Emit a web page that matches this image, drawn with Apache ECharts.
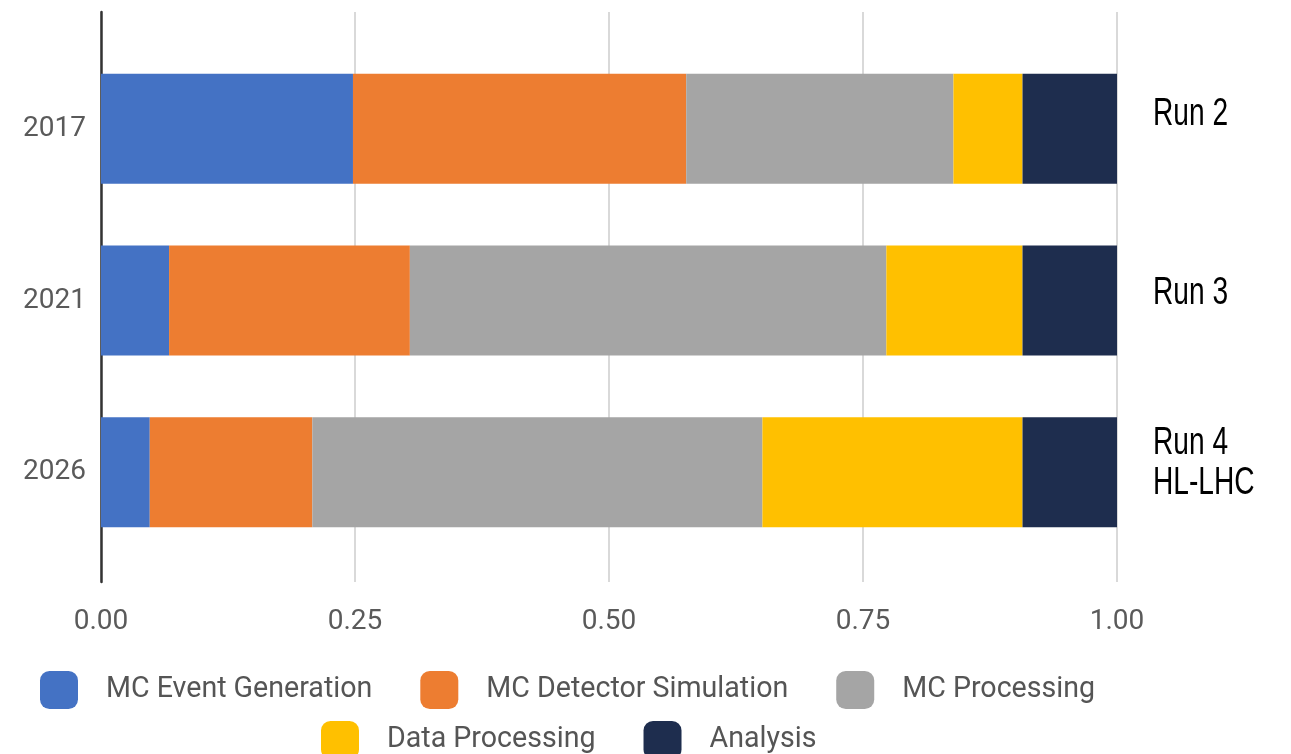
<!DOCTYPE html>
<html>
<head>
<meta charset="utf-8">
<title>CPU share by activity</title>
<script src="https://cdn.jsdelivr.net/npm/echarts@6/dist/echarts.min.js"></script>
<style>
  html, body { margin: 0; padding: 0; background: #fff; }
  #chart { width: 1291px; height: 754px; }
</style>
</head>
<body>
<div id="chart"></div>
<script>
// Years shown on the category axis (top to bottom)
const years = ['2017', '2021', '2026'];
// Run labels printed to the right of each bar
const runLabels = ['Run 2', 'Run 3', 'Run 4\nHL-LHC'];
// Activity names, in stacking order
const activities = ['MC Event Generation', 'MC Detector Simulation', 'MC Processing', 'Data Processing', 'Analysis'];
// Fraction of resources per activity, one entry per year
const mcEventGeneration    = [0.248, 0.067, 0.048];
const mcDetectorSimulation = [0.328, 0.237, 0.160];
const mcProcessing         = [0.263, 0.469, 0.443];
const dataProcessing       = [0.068, 0.134, 0.256];
const analysis             = [0.093, 0.093, 0.093];
// Value axis ticks
const xTicks = [0, 0.25, 0.5, 0.75, 1];

const seriesValues = [mcEventGeneration, mcDetectorSimulation, mcProcessing, dataProcessing, analysis];
const colors = ['#4472c4', '#ed7d31', '#a5a5a5', '#ffc000', '#1e2d4e'];

const chart = echarts.init(document.getElementById('chart'), null, { renderer: 'canvas' });

const labelFont = { fontFamily: 'Roboto', fontSize: 28, color: '#5a5a5a' };
const legendText = { fontFamily: 'Roboto', fontSize: 28.6, color: '#555', padding: [0, 0, 0, 23] };

const option = {
  animation: false,
  backgroundColor: '#fff',
  color: colors,
  grid: [
    // bars
    { left: 101, right: 174, top: 43, bottom: 196 },
    // frame: gridlines, value labels and the left axis line
    { left: 101, right: 174, top: 12, bottom: 172 }
  ],
  xAxis: [
    {
      gridIndex: 0, type: 'value', min: xTicks[0], max: xTicks[xTicks.length - 1], interval: 0.25,
      show: false
    },
    {
      gridIndex: 1, type: 'value', min: xTicks[0], max: xTicks[xTicks.length - 1], interval: 0.25,
      axisLine: { show: false },
      axisTick: { show: false },
      splitLine: { show: true, lineStyle: { color: '#d9d9d9', width: 2 } },
      axisLabel: {
        margin: 26,
        ...labelFont,
        formatter: v => v.toFixed(2)
      }
    }
  ],
  yAxis: [
    {
      gridIndex: 0, type: 'category', data: years, inverse: true,
      axisLine: { show: false },
      axisTick: { show: false },
      axisLabel: { margin: 15, ...labelFont }
    },
    {
      gridIndex: 1, type: 'category', data: years, inverse: true,
      axisLine: { show: true, lineStyle: { color: '#333', width: 2.5 } },
      axisTick: { show: false },
      axisLabel: { show: false },
      splitLine: { show: false }
    }
  ],
  legend: [
    {
      data: activities.slice(0, 3),
      left: 35, top: 666,
      orient: 'horizontal',
      icon: 'roundRect',
      itemWidth: 38, itemHeight: 38, itemGap: 48,
      selectedMode: false,
      textStyle: legendText
    },
    {
      data: activities.slice(3),
      left: 316, top: 716,
      orient: 'horizontal',
      icon: 'roundRect',
      itemWidth: 38, itemHeight: 38, itemGap: 48,
      selectedMode: false,
      textStyle: legendText
    }
  ],
  series: activities.map((name, i) => ({
    name,
    type: 'bar',
    stack: 'total',
    xAxisIndex: 0,
    yAxisIndex: 0,
    barWidth: 110,
    data: seriesValues[i],
    itemStyle: { color: colors[i] }
  })),
  graphic: runLabels.map((text, i) => ({
    type: 'text',
    x: 1153,
    y: [115, 294, 464][i],
    scaleX: 0.74,
    style: {
      text,
      fontFamily: '"Liberation Sans", Arial, sans-serif',
      fontSize: 38,
      lineHeight: 40,
      fill: '#000',
      align: 'left',
      verticalAlign: 'middle'
    }
  }))
};

chart.setOption(option);
</script>
</body>
</html>
